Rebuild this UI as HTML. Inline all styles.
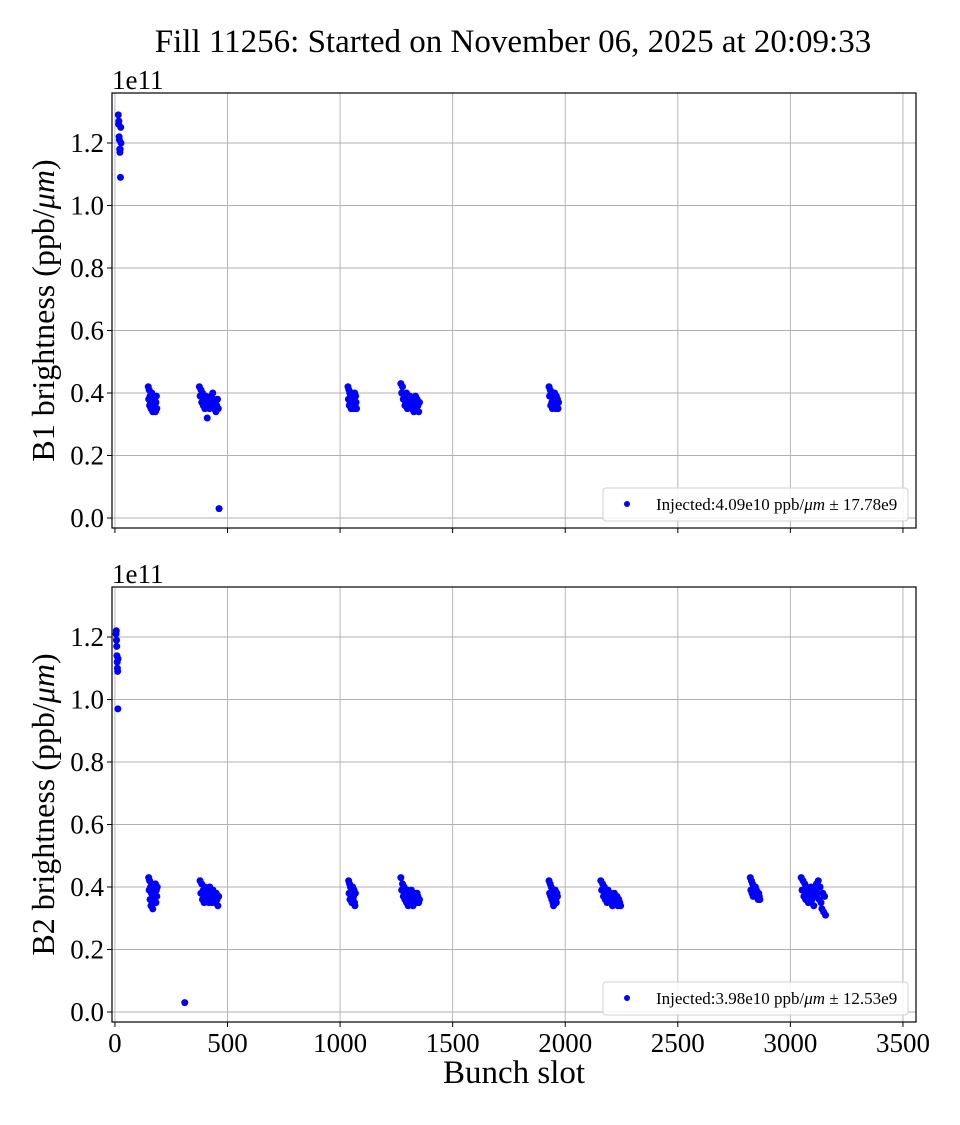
<!DOCTYPE html>
<html><head><meta charset="utf-8">
<style>
body{margin:0;background:#fff;}
svg text{font-family:"Liberation Serif","DejaVu Serif",serif;fill:#000;}
</style></head>
<body>
<svg id="chart" width="960" height="1120" xmlns="http://www.w3.org/2000/svg">
<text x="513" y="52" font-size="33" text-anchor="middle">Fill 11256: Started on November 06, 2025 at 20:09:33</text>
<g id="p1"></g>
<g id="p2"></g>
<text x="514" y="1083" font-size="33" text-anchor="middle">Bunch slot</text>
</svg>
<script>
// ---- data ----
const xTicks=[0,500,1000,1500,2000,2500,3000,3500];
const yTicks=[0,0.2,0.4,0.6,0.8,1.0,1.2];
// clusters: start slot, step, values (1e11 ppb/um)
const b1Starts=[15,148,375,1035,1270,1928];
const b1Steps=[1.2,2,3.5,2,3.6,2.5];
const b1Values=[
 [1.29,1.26,1.27,1.22,1.21,1.18,1.17,1.18,1.09,1.25,1.20],
 [0.42,0.38,0.41,0.36,0.39,0.37,0.35,0.38,0.40,0.36,0.34,0.37,0.39,0.35,0.38,0.36,0.34,0.37,0.39,0.35],
 [0.42,0.39,0.41,0.37,0.40,0.36,0.38,0.35,0.39,0.37,0.32,0.36,0.38,0.35,0.37,0.39,0.36,0.40,0.38,0.35,0.37,0.34,0.36,0.38,0.35,0.03],
 [0.42,0.38,0.41,0.36,0.40,0.37,0.39,0.35,0.38,0.40,0.36,0.39,0.37,0.35,0.38,0.40,0.36,0.39,0.37,0.35],
 [0.43,0.40,0.42,0.38,0.39,0.36,0.37,0.40,0.35,0.38,0.36,0.39,0.37,0.35,0.38,0.36,0.34,0.37,0.39,0.35,0.38,0.36,0.34,0.37],
 [0.42,0.39,0.41,0.36,0.40,0.37,0.35,0.39,0.38,0.36,0.40,0.37,0.35,0.39,0.36,0.38,0.35,0.37]
];
const b2Starts=[5,150,378,1038,1270,1928,2158,2822,3048];
const b2Steps=[1,2,3.6,2,3.6,2.5,4,2.5,4];
const b2Values=[
 [1.21,1.22,1.19,1.17,1.14,1.12,1.10,1.09,0.97,1.13],
 [0.43,0.39,0.42,0.36,0.40,0.34,0.38,0.41,0.35,0.33,0.39,0.37,0.40,0.36,0.38,0.41,0.35,0.39,0.37,0.40],
 [0.42,0.38,0.41,0.36,0.39,0.35,0.40,0.37,0.38,0.36,0.39,0.35,0.40,0.37,0.38,0.35,0.39,0.36,0.37,0.35,0.38,0.36,0.34,0.37],
 [0.42,0.38,0.41,0.36,0.40,0.37,0.39,0.35,0.38,0.40,0.36,0.37,0.39,0.35,0.34,0.38],
 [0.43,0.39,0.41,0.37,0.40,0.36,0.38,0.35,0.39,0.34,0.37,0.38,0.36,0.39,0.35,0.34,0.37,0.38,0.36,0.35,0.38,0.37,0.35,0.36],
 [0.42,0.38,0.41,0.37,0.40,0.36,0.39,0.35,0.34,0.38,0.37,0.39,0.36,0.35,0.38,0.37],
 [0.42,0.39,0.41,0.37,0.40,0.36,0.38,0.35,0.39,0.37,0.36,0.38,0.35,0.34,0.37,0.38,0.36,0.35,0.37,0.34,0.36,0.35,0.34],
 [0.43,0.39,0.42,0.38,0.41,0.37,0.40,0.38,0.39,0.40,0.37,0.39,0.38,0.37,0.36,0.38,0.37,0.36],
 [0.43,0.39,0.42,0.37,0.41,0.36,0.40,0.38,0.35,0.39,0.37,0.40,0.36,0.38,0.34,0.39,0.37,0.41,0.38,0.42,0.36,0.40,0.35,0.33,0.38,0.32,0.37,0.31]
];
const b2Outlier=[310,0.03];
const legend1="Injected:4.09e10 ppb/";
const legend1b=" \u00b1 17.78e9";
const legend2="Injected:3.98e10 ppb/";
const legend2b=" \u00b1 12.53e9";

const NS="http://www.w3.org/2000/svg";
const L=112,R=916;
const xs=v=>L+(v+13)*(R-L)/3571;
function mk(tag,attrs,parent){const e=document.createElementNS(NS,tag);for(const k in attrs)e.setAttribute(k,attrs[k]);parent.appendChild(e);return e;}

function panel(g,top,label,starts,steps,values,extra,legA,legB,showXLabels){
  const bot=top+435;
  const ys=v=>top+(1.36-v)*(435/1.392);
  xTicks.forEach(t=>{
    const l=mk('line',{x1:xs(t),x2:xs(t),y1:top,y2:bot,stroke:'#b0b0b0','stroke-width':0.9},g);
    
    
    const tk=mk('line',{x1:xs(t),x2:xs(t),y1:bot,y2:bot+5,stroke:'#000'},g);
    
    
    if(showXLabels){
      const tx=mk('text',{x:xs(t),y:bot+30,'font-size':27,'text-anchor':'middle'},g);
      tx.textContent=t;
      
      
    }
  });
  yTicks.forEach(t=>{
    const l=mk('line',{x1:L,x2:R,y1:ys(t),y2:ys(t),stroke:'#b0b0b0','stroke-width':0.9},g);
    
    
    const tk=mk('line',{x1:L-5,x2:L,y1:ys(t),y2:ys(t),stroke:'#000'},g);
    
    
    const tx=mk('text',{x:L-8,y:ys(t)+9,'font-size':27,'text-anchor':'end'},g);
    tx.textContent=t.toFixed(1);
    
    
  });
  const ex=mk('text',{x:L,y:top-4,'font-size':27},g);
  ex.textContent='1e11';
  
  
  const yl=mk('text',{x:0,y:0,'font-size':32,'text-anchor':'middle',transform:`translate(54,${(top+bot)/2}) rotate(-90)`},g);
  yl.innerHTML=label+' brightness (ppb/<tspan font-style="italic">\u03bcm</tspan>)';
  
  
  starts.forEach((s,ci)=>{
    values[ci].forEach((v,i)=>{
      const c=mk('circle',{cx:xs(s+i*steps[ci]),cy:ys(v),r:3.5,fill:'#0000ff'},g);
      
      
    });
  });
  if(extra){
    const c=mk('circle',{cx:xs(extra[0]),cy:ys(extra[1]),r:3.5,fill:'#0000ff'},g);
    
    
  }
  const fr=mk('rect',{x:L,y:top,width:R-L,height:435,fill:'none',stroke:'#000','stroke-width':1.2},g);
  
  
  const lg=mk('g',{},g);
  
  
  mk('rect',{x:603,y:bot-40,width:305,height:33,rx:3,fill:'#fff','fill-opacity':0.85,stroke:'#d0d0d0'},lg);
  mk('circle',{cx:627,cy:bot-24,r:3,fill:'#0000ff'},lg);
  const lt=mk('text',{x:656,y:bot-18,'font-size':17},lg);
  lt.innerHTML=legA+'<tspan font-style="italic">\u03bcm</tspan>'+legB;
  
  
}
panel(document.getElementById('p1'),93,'B1',b1Starts,b1Steps,b1Values,null,legend1,legend1b,false);
panel(document.getElementById('p2'),587,'B2',b2Starts,b2Steps,b2Values,b2Outlier,legend2,legend2b,true);
</script>
</body></html>
